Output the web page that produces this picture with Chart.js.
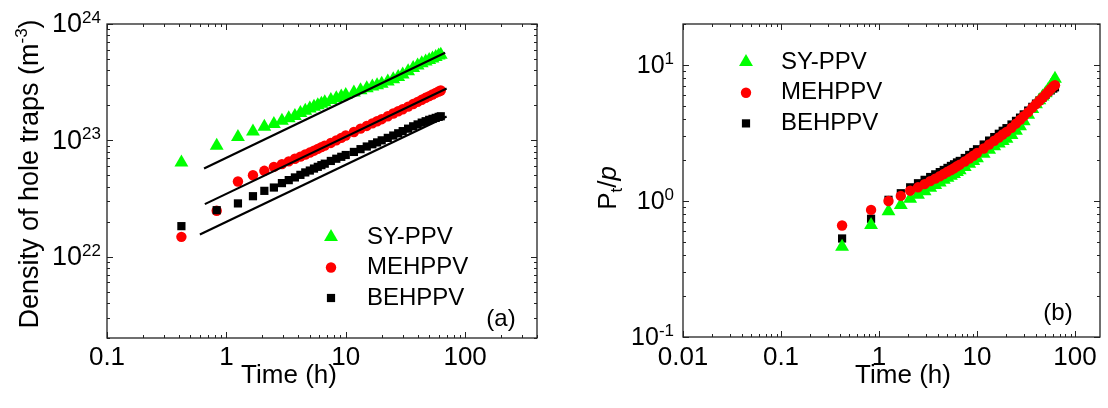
<!DOCTYPE html>
<html lang="en">
<head>
<meta charset="UTF-8">
<title>Hole traps vs time</title>
<script src="https://cdn.jsdelivr.net/npm/chart.js"></script>
<style>
  body { margin: 0; background: #fff; }
  .wrap { position: relative; width: 1108px; height: 408px; }
  canvas { position: absolute; top: 0; }
  #chartA { left: 0; }
  #chartB { left: 560px; }
</style>
</head>
<body>
<div class="wrap">
  <canvas id="chartA" width="560" height="408"></canvas>
  <canvas id="chartB" width="548" height="408"></canvas>
</div>
<script>
// measurement times (h)
const times = [0.42, 0.83, 1.25, 1.67, 2.08, 2.5, 2.92, 3.33, 3.75, 4.17, 4.58, 5.0, 5.42, 5.83, 6.25, 6.67,
  7.5, 8.33, 9.17, 10, 11.7, 13.3, 15, 16.7, 18.3, 20, 22.5, 25, 27.5, 30, 33.3, 36.7, 40, 43.3, 46.7,
  50, 53.3, 56.7, 60, 62.5];

// (a) density of hole traps (m^-3)
const syDensity = [6.45e22, 8.97e22, 1.07e23, 1.19e23, 1.31e23, 1.38e23, 1.47e23, 1.55e23, 1.62e23, 1.72e23,
  1.80e23, 1.88e23, 1.94e23, 2.0e23, 2.06e23, 2.12e23, 2.22e23, 2.30e23, 2.38e23, 2.45e23, 2.58e23, 2.70e23,
  2.80e23, 2.90e23, 2.98e23, 3.07e23, 3.2e23, 3.35e23, 3.5e23, 3.68e23, 3.92e23, 4.18e23, 4.4e23, 4.6e23,
  4.75e23, 4.9e23, 5.05e23, 5.2e23, 5.35e23, 5.45e23];
const mehDensity = [1.48e22, 2.48e22, 4.43e22, 5.01e22, 5.47e22, 5.92e22, 6.25e22, 6.6e22, 6.95e22, 7.25e22,
  7.55e22, 7.85e22, 8.15e22, 8.45e22, 8.75e22, 9.0e22, 9.5e22, 1.0e23, 1.05e23, 1.1e23, 1.18e23, 1.26e23,
  1.33e23, 1.40e23, 1.46e23, 1.52e23, 1.61e23, 1.70e23, 1.78e23, 1.85e23, 1.95e23, 2.05e23, 2.14e23, 2.23e23,
  2.32e23, 2.40e23, 2.48e23, 2.56e23, 2.63e23, 2.68e23];
const behDensity = [1.83e22, 2.51e22, 2.87e22, 3.31e22, 3.68e22, 3.93e22, 4.29e22, 4.55e22, 4.8e22, 5.05e22,
  5.3e22, 5.5e22, 5.72e22, 5.92e22, 6.12e22, 6.3e22, 6.65e22, 6.95e22, 7.22e22, 7.48e22, 7.95e22, 8.4e22,
  8.85e22, 9.25e22, 9.6e22, 1.0e23, 1.05e23, 1.1e23, 1.15e23, 1.2e23, 1.26e23, 1.32e23, 1.37e23, 1.42e23,
  1.46e23, 1.5e23, 1.53e23, 1.56e23, 1.59e23, 1.61e23];

// (a) straight fit lines, end points
const syFitX = [0.65, 68];   const syFitY = [5.73e22, 5.66e23];
const mehFitX = [0.66, 70];  const mehFitY = [2.83e22, 2.79e23];
const behFitX = [0.6, 70];   const behFitY = [1.55e22, 1.6e23];

// (b) Pt/p
const syRatio = [0.46, 0.665, 0.84, 0.935, 1.04, 1.11, 1.18, 1.25, 1.31, 1.37, 1.43, 1.48, 1.53, 1.58, 1.63,
  1.68, 1.78, 1.88, 1.97, 2.06, 2.22, 2.38, 2.52, 2.65, 2.76, 2.87, 3.05, 3.28, 3.55, 3.85, 4.3, 4.75, 5.15,
  5.5, 5.85, 6.2, 6.6, 7.0, 7.5, 7.9];
const mehRatio = [0.66, 0.86, 1.0, 1.09, 1.19, 1.26, 1.33, 1.40, 1.46, 1.52, 1.58, 1.64, 1.69, 1.74, 1.80,
  1.85, 1.95, 2.05, 2.15, 2.25, 2.43, 2.60, 2.77, 2.93, 3.08, 3.22, 3.45, 3.7, 3.95, 4.2, 4.5, 4.85, 5.15,
  5.45, 5.75, 6.05, 6.35, 6.65, 6.95, 7.1];
const behRatio = [0.53, 0.74, 1.02, 1.14, 1.26, 1.35, 1.43, 1.50, 1.57, 1.63, 1.69, 1.75, 1.81, 1.86, 1.92,
  1.97, 2.07, 2.18, 2.29, 2.4, 2.6, 2.78, 2.95, 3.12, 3.28, 3.43, 3.65, 3.88, 4.1, 4.33, 4.62, 4.92, 5.2,
  5.48, 5.75, 6.02, 6.28, 6.5, 6.7, 6.85];

const seriesNames = ['SY-PPV', 'MEHPPV', 'BEHPPV'];

// tick labels
const xTicksA = [0.1, 1, 10, 100];       const xLabelsA = ['0.1', '1', '10', '100'];
const yTicksA = [1e22, 1e23, 1e24];      const yExpA = ['22', '23', '24'];
const xTicksB = [0.01, 0.1, 1, 10, 100]; const xLabelsB = ['0.01', '0.1', '1', '10', '100'];
const yTicksB = [0.1, 1, 10];            const yExpB = ['-1', '0', '1'];

const FONT = 'Arial, "Liberation Sans", sans-serif';
const GREEN = '#00ff00', RED = '#ff0000', BLACK = '#000000';
const marks = {
  sy: { pointStyle: 'triangle', radius: 8, color: GREEN },
  meh: { pointStyle: 'circle', radius: 5.2, color: RED },
  beh: { pointStyle: 'rect', radius: 5.8, color: BLACK }
};

function pts(xs, ys) { return xs.map((x, i) => ({ x: x, y: ys[i] })); }

function markerSet(label, data, m) {
  return {
    label: label, data: data,
    pointStyle: m.pointStyle, pointRadius: m.radius,
    pointBackgroundColor: m.color, pointBorderWidth: 0,
    borderColor: m.color, showLine: false
  };
}
function fitSet(data) {
  return { data: data, showLine: true, borderColor: BLACK, borderWidth: 2.2, pointRadius: 0 };
}

function logTicks(min, max) {
  const out = [];
  for (let d = Math.floor(Math.log10(min)) - 1; d <= Math.ceil(Math.log10(max)); d++) {
    for (let k = 1; k <= 9; k++) {
      const v = k * Math.pow(10, d);
      if (v >= min * 0.999 && v <= max * 1.001) out.push({ v: v, major: k === 1 });
    }
  }
  return out;
}

function drawParts(ctx, parts, cx, y) {
  let total = 0;
  parts.forEach(p => { ctx.font = p.f; p.w = ctx.measureText(p.t).width; total += p.w; });
  let x = cx - total / 2;
  ctx.textAlign = 'left';
  ctx.textBaseline = 'alphabetic';
  parts.forEach(p => { ctx.font = p.f; ctx.fillText(p.t, x, y + (p.dy || 0)); x += p.w; });
}

function framePlugin(cfg) {
  return {
    id: 'frame',
    afterDatasetsDraw(chart) {
      const ctx = chart.ctx, a = chart.chartArea;
      const xs = chart.scales.x, ys = chart.scales.y;
      ctx.save();
      ctx.strokeStyle = '#222';
      ctx.fillStyle = '#000';
      ctx.lineWidth = 1.3;
      ctx.strokeRect(a.left, a.top, a.right - a.left, a.bottom - a.top);

      // inward ticks on all four sides
      ctx.lineWidth = 1;
      ctx.beginPath();
      logTicks(xs.min, xs.max).forEach(t => {
        const px = Math.round(xs.getPixelForValue(t.v)) + 0.5;
        const len = t.major ? 6 : 3;
        ctx.moveTo(px, a.bottom); ctx.lineTo(px, a.bottom - len);
        ctx.moveTo(px, a.top); ctx.lineTo(px, a.top + len);
      });
      logTicks(ys.min, ys.max).forEach(t => {
        const py = Math.round(ys.getPixelForValue(t.v)) + 0.5;
        const len = t.major ? 6 : 3;
        ctx.moveTo(a.left, py); ctx.lineTo(a.left + len, py);
        ctx.moveTo(a.right, py); ctx.lineTo(a.right - len, py);
      });
      ctx.stroke();

      // x tick labels
      ctx.font = '26px ' + FONT;
      ctx.textAlign = 'center';
      ctx.textBaseline = 'middle';
      cfg.xTicks.forEach((v, i) => ctx.fillText(cfg.xLabels[i], xs.getPixelForValue(v), cfg.xLabelY));

      // y tick labels: 10 with superscript exponent
      cfg.yTicks.forEach((v, i) => {
        const py = ys.getPixelForValue(v);
        ctx.font = '17px ' + FONT;
        const sw = ctx.measureText(cfg.yExp[i]).width;
        ctx.textAlign = 'left';
        ctx.textBaseline = 'alphabetic';
        ctx.fillText(cfg.yExp[i], cfg.yLabelRight - sw, py - 1);
        ctx.font = cfg.yLabelFont + ' ' + FONT;
        ctx.textAlign = 'right';
        ctx.textBaseline = 'middle';
        ctx.fillText('10', cfg.yLabelRight - sw, py + 1);
      });

      // axis titles
      ctx.font = '26px ' + FONT;
      ctx.textAlign = 'center';
      ctx.textBaseline = 'alphabetic';
      ctx.fillText('Time (h)', cfg.xTitleX, 383);
      ctx.save();
      ctx.translate(cfg.yTitleBase, cfg.yTitleMid);
      ctx.rotate(-Math.PI / 2);
      drawParts(ctx, cfg.yTitle, 0, 0);
      ctx.restore();

      // legend
      cfg.legend.forEach((it, i) => {
        const y = cfg.legendY + i * cfg.legendGap;
        ctx.fillStyle = it.m.color;
        Chart.helpers.drawPoint(ctx, { pointStyle: it.m.pointStyle, radius: it.m.radius, rotation: 0, borderWidth: 0 },
          cfg.legendX, y);
        ctx.fillStyle = '#000';
        ctx.font = '24px ' + FONT;
        ctx.textAlign = 'left';
        ctx.textBaseline = 'middle';
        ctx.fillText(it.label, cfg.legendTextX, y);
      });

      // panel letter
      ctx.font = '24px ' + FONT;
      ctx.textAlign = 'center';
      ctx.textBaseline = 'alphabetic';
      ctx.fillText(cfg.letter, cfg.letterX, cfg.letterY);
      ctx.restore();
    }
  };
}

const legendItems = [
  { label: seriesNames[0], m: marks.sy },
  { label: seriesNames[1], m: marks.meh },
  { label: seriesNames[2], m: marks.beh }
];

const baseOptions = {
  responsive: false,
  animation: false,
  events: [],
  plugins: { legend: { display: false }, tooltip: { enabled: false } }
};

new Chart(document.getElementById('chartA'), {
  type: 'scatter',
  data: {
    datasets: [
      fitSet(pts(syFitX, syFitY)),
      fitSet(pts(mehFitX, mehFitY)),
      fitSet(pts(behFitX, behFitY)),
      markerSet(seriesNames[2], pts(times, behDensity), marks.beh),
      markerSet(seriesNames[1], pts(times, mehDensity), marks.meh),
      markerSet(seriesNames[0], pts(times, syDensity), marks.sy)
    ]
  },
  options: Object.assign({}, baseOptions, {
    layout: { padding: { left: 107, right: 23, top: 24, bottom: 70 } },
    scales: {
      x: { type: 'logarithmic', min: 0.1, max: 400, display: false },
      y: { type: 'logarithmic', min: 2e21, max: 1e24, display: false }
    }
  }),
  plugins: [framePlugin({
    xTicks: xTicksA, xLabels: xLabelsA, xLabelY: 358,
    yTicks: yTicksA, yExp: yExpA, yLabelRight: 101, yLabelFont: '27px',
    xTitleX: 289,
    yTitleBase: 38, yTitleMid: 174,
    yTitle: [
      { t: 'Density of hole traps (m', f: '27px ' + FONT },
      { t: '-3', f: '17px ' + FONT, dy: -11 },
      { t: ')', f: '27px ' + FONT }
    ],
    legend: legendItems, legendX: 331, legendY: 237, legendGap: 30.5, legendTextX: 367,
    letter: '(a)', letterX: 501, letterY: 326
  })]
});

new Chart(document.getElementById('chartB'), {
  type: 'scatter',
  data: {
    datasets: [
      markerSet(seriesNames[1], pts(times, mehRatio), marks.meh),
      markerSet(seriesNames[0], pts(times, syRatio), marks.sy),
      markerSet(seriesNames[2], pts(times, behRatio), marks.beh)
    ]
  },
  options: Object.assign({}, baseOptions, {
    layout: { padding: { left: 123, right: 2, top: 24, bottom: 71 } },
    scales: {
      x: { type: 'logarithmic', min: 0.01, max: 180, display: false },
      y: { type: 'logarithmic', min: 0.1, max: 20, display: false }
    }
  }),
  plugins: [framePlugin({
    xTicks: xTicksB, xLabels: xLabelsB, xLabelY: 358,
    yTicks: yTicksB, yExp: yExpB, yLabelRight: 114, yLabelFont: '25px',
    xTitleX: 343,
    yTitleBase: 56, yTitleMid: 188,
    yTitle: [
      { t: 'P', f: '26px ' + FONT },
      { t: 't', f: '17px ' + FONT, dy: 6 },
      { t: '/', f: '26px ' + FONT },
      { t: 'p', f: 'italic 26px ' + FONT }
    ],
    legend: legendItems, legendX: 186, legendY: 62, legendGap: 30.7, legendTextX: 221,
    letter: '(b)', letterX: 498, letterY: 320
  })]
});
</script>
</body>
</html>
